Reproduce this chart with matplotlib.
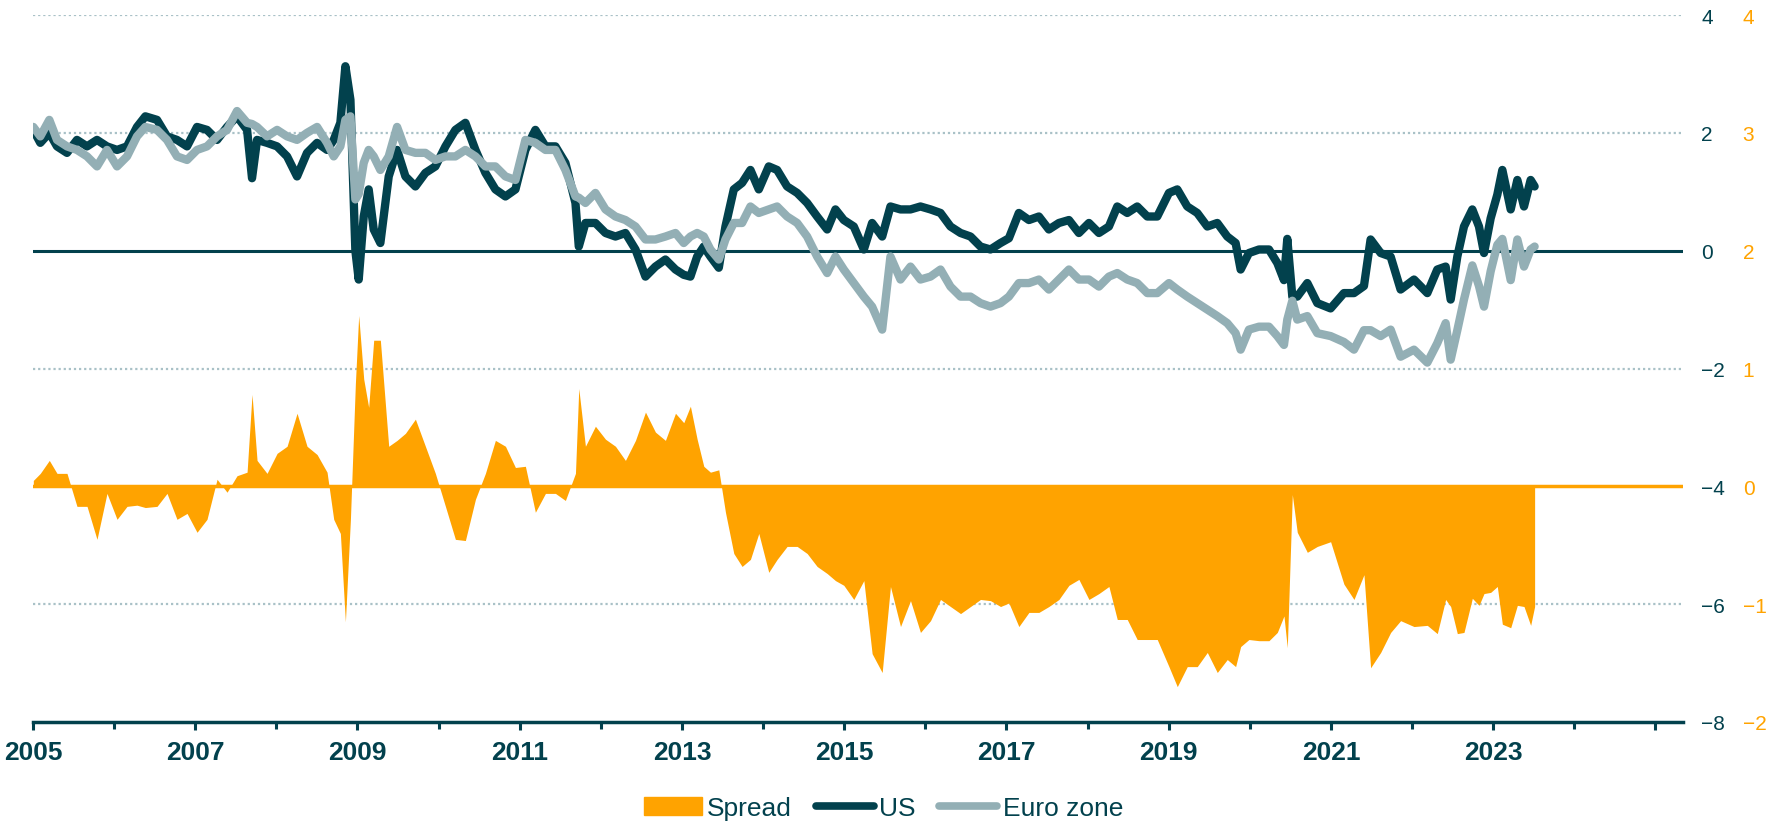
import matplotlib.pyplot as plt
from matplotlib.patches import Patch
from matplotlib.lines import Line2D

plt.rcParams['font.family'] = ['Liberation Sans', 'DejaVu Sans']

DARK = '#02414d'
LIGHT = '#93afb5'
ORANGE = '#ffa300'
GRID = '#a9c1c7'

# time in decimal years
t = [2005.004, 2005.090, 2005.201, 2005.296, 2005.419, 2005.542, 2005.666, 2005.789, 2005.912,
     2006.036, 2006.159, 2006.282, 2006.385, 2006.529, 2006.652, 2006.775, 2006.899,
     2007.022, 2007.145, 2007.269, 2007.392, 2007.515, 2007.639, 2007.700, 2007.762, 2007.885,
     2008.009, 2008.132, 2008.255, 2008.378, 2008.502, 2008.625, 2008.707, 2008.789, 2008.851, 2008.913, 2008.974,
     2009.015, 2009.077, 2009.138, 2009.200, 2009.282, 2009.385, 2009.488, 2009.591, 2009.714, 2009.837, 2009.960,
     2010.084, 2010.207, 2010.330, 2010.454, 2010.577, 2010.700, 2010.824, 2010.947,
     2011.070, 2011.193, 2011.317, 2011.440, 2011.563, 2011.687, 2011.728, 2011.810, 2011.933,
     2012.057, 2012.180, 2012.303, 2012.427, 2012.550, 2012.673, 2012.796, 2012.920,
     2013.022, 2013.104, 2013.187, 2013.269, 2013.351, 2013.454, 2013.536, 2013.639, 2013.741, 2013.844, 2013.947,
     2014.070, 2014.173, 2014.296, 2014.420, 2014.543, 2014.666, 2014.790, 2014.892, 2014.995,
     2015.118, 2015.242, 2015.344, 2015.468, 2015.570, 2015.694, 2015.817, 2015.940,
     2016.064, 2016.187, 2016.310, 2016.434, 2016.557, 2016.680, 2016.803, 2016.927,
     2017.030, 2017.153, 2017.277, 2017.400, 2017.523, 2017.647, 2017.770, 2017.893,
     2018.017, 2018.140, 2018.263, 2018.366, 2018.489, 2018.612, 2018.736, 2018.859,
     2019.003, 2019.106, 2019.229, 2019.352, 2019.476, 2019.599, 2019.722, 2019.825, 2019.887, 2019.989,
     2020.113, 2020.236, 2020.339, 2020.421, 2020.462, 2020.524, 2020.585, 2020.709, 2020.832, 2020.996,
     2021.160, 2021.284, 2021.407, 2021.489, 2021.613, 2021.736, 2021.859,
     2022.024, 2022.188, 2022.311, 2022.414, 2022.476, 2022.558, 2022.640, 2022.743, 2022.825, 2022.887, 2022.969,
     2023.051, 2023.113, 2023.216, 2023.298, 2023.380, 2023.462, 2023.511]

us = [2.05, 1.83, 2.00, 1.77, 1.66, 1.88, 1.77, 1.88, 1.77,
      1.71, 1.77, 2.10, 2.28, 2.22, 1.94, 1.88, 1.77,
      2.10, 2.05, 1.88, 2.10, 2.28, 2.05, 1.23, 1.88, 1.83,
      1.77, 1.60, 1.26, 1.66, 1.83, 1.71, 1.88, 2.17, 3.13, 2.56, 0.00,
      -0.49, 0.58, 1.04, 0.36, 0.13, 1.26, 1.71, 1.26, 1.09, 1.32, 1.43,
      1.77, 2.05, 2.17, 1.71, 1.32, 1.04, 0.92, 1.04,
      1.71, 2.05, 1.77, 1.77, 1.49, 0.81, 0.07, 0.47, 0.47,
      0.30, 0.24, 0.30, 0.02, -0.44, -0.27, -0.15, -0.32,
      -0.41, -0.44, -0.10, 0.07, -0.10, -0.29, 0.41, 1.04, 1.15, 1.37, 1.04,
      1.43, 1.37, 1.09, 0.98, 0.81, 0.58, 0.36, 0.70, 0.52,
      0.41, 0.02, 0.47, 0.24, 0.75, 0.70, 0.70, 0.75,
      0.70, 0.64, 0.41, 0.30, 0.24, 0.07, 0.02, 0.13,
      0.21, 0.64, 0.52, 0.58, 0.36, 0.47, 0.52, 0.30,
      0.47, 0.30, 0.41, 0.75, 0.64, 0.75, 0.58, 0.58,
      0.98, 1.04, 0.75, 0.64, 0.41, 0.47, 0.24, 0.13, -0.32, -0.04,
      0.02, 0.02, -0.21, -0.50, 0.20, -0.78, -0.78, -0.55, -0.89, -0.98,
      -0.72, -0.72, -0.60, 0.19, -0.04, -0.10, -0.66,
      -0.49, -0.72, -0.32, -0.27, -0.83, -0.10, 0.41, 0.70, 0.41, -0.04, 0.55,
      0.95, 1.37, 0.70, 1.20, 0.75, 1.20, 1.09]

euro = [2.10, 1.94, 2.22, 1.88, 1.77, 1.71, 1.60, 1.43, 1.71,
        1.43, 1.60, 1.94, 2.10, 2.05, 1.88, 1.60, 1.54,
        1.71, 1.77, 1.94, 2.05, 2.37, 2.17, 2.15, 2.10, 1.94,
        2.05, 1.94, 1.88, 2.00, 2.10, 1.83, 1.60, 1.77, 2.22, 2.28, 0.87,
        0.96, 1.49, 1.71, 1.60, 1.37, 1.60, 2.10, 1.71, 1.66, 1.66, 1.54,
        1.60, 1.60, 1.71, 1.60, 1.43, 1.43, 1.26, 1.20,
        1.88, 1.83, 1.71, 1.71, 1.37, 0.92, 0.90, 0.81, 0.98,
        0.70, 0.58, 0.52, 0.41, 0.19, 0.19, 0.24, 0.30,
        0.13, 0.24, 0.30, 0.24, 0.02, -0.15, 0.19, 0.47, 0.47, 0.75, 0.64,
        0.70, 0.75, 0.58, 0.47, 0.24, -0.10, -0.38, -0.10, -0.32,
        -0.55, -0.78, -0.95, -1.34, -0.10, -0.49, -0.27, -0.49,
        -0.44, -0.32, -0.61, -0.78, -0.78, -0.89, -0.95, -0.89,
        -0.78, -0.55, -0.55, -0.49, -0.66, -0.49, -0.32, -0.49,
        -0.49, -0.61, -0.44, -0.38, -0.49, -0.55, -0.72, -0.72,
        -0.55, -0.66, -0.78, -0.89, -1.00, -1.11, -1.23, -1.40, -1.68, -1.34,
        -1.29, -1.29, -1.45, -1.60, -1.17, -0.85, -1.17, -1.11, -1.40, -1.45,
        -1.55, -1.68, -1.35, -1.35, -1.45, -1.34, -1.80,
        -1.68, -1.90, -1.57, -1.23, -1.85, -1.35, -0.83, -0.25, -0.60, -0.95, -0.35,
        0.10, 0.20, -0.50, 0.19, -0.27, 0.02, 0.07]

spread = [0.05, 0.11, 0.22, 0.11, 0.11, -0.17, -0.17, -0.45, -0.06,
          -0.28, -0.17, -0.16, -0.18, -0.17, -0.06, -0.28, -0.23,
          -0.39, -0.28, 0.06, -0.05, 0.09, 0.12, 0.78, 0.22, 0.11,
          0.28, 0.34, 0.62, 0.34, 0.27, 0.12, -0.28, -0.40, -1.15, -0.28, 0.87,
          1.45, 0.91, 0.67, 1.24, 1.24, 0.34, 0.39, 0.45, 0.57, 0.34, 0.11,
          -0.17, -0.45, -0.46, -0.11, 0.11, 0.39, 0.34, 0.16,
          0.17, -0.22, -0.06, -0.06, -0.12, 0.11, 0.83, 0.34, 0.51,
          0.40, 0.34, 0.22, 0.39, 0.63, 0.46, 0.39, 0.62,
          0.54, 0.68, 0.40, 0.17, 0.12, 0.14, -0.22, -0.57, -0.68, -0.62, -0.40,
          -0.73, -0.62, -0.51, -0.51, -0.57, -0.68, -0.74, -0.80, -0.84,
          -0.96, -0.80, -1.42, -1.58, -0.85, -1.19, -0.97, -1.24,
          -1.14, -0.96, -1.02, -1.08, -1.02, -0.96, -0.97, -1.02,
          -0.99, -1.19, -1.07, -1.07, -1.02, -0.96, -0.84, -0.79,
          -0.96, -0.91, -0.85, -1.13, -1.13, -1.30, -1.30, -1.30,
          -1.53, -1.70, -1.53, -1.53, -1.41, -1.58, -1.47, -1.53, -1.36, -1.30,
          -1.31, -1.31, -1.24, -1.10, -1.37, -0.07, -0.39, -0.56, -0.51, -0.47,
          -0.83, -0.96, -0.75, -1.54, -1.41, -1.24, -1.14,
          -1.19, -1.18, -1.25, -0.96, -1.02, -1.25, -1.24, -0.95, -1.01, -0.91, -0.90,
          -0.85, -1.17, -1.20, -1.01, -1.02, -1.18, -1.02]

left_ticks = [-8, -6, -4, -2, 0, 2, 4]
right_ticks = [-2, -1, 0, 1, 2, 3, 4]
year_ticks = list(range(2005, 2026, 2))

fig = plt.figure(figsize=(17.67, 8.29), dpi=100)
ax = fig.add_axes([33 / 1767, 106 / 829, 1650 / 1767, 707 / 829])
ax2 = ax.twinx()
ax.set_zorder(ax2.get_zorder() + 1)
ax.patch.set_visible(False)

# spread on the secondary scale
for g in [4, 3, 1, -1]:
    ax2.axhline(g, color=GRID, lw=1.6, ls=(0, (1, 1.3)), zorder=0)
ax2.fill_between(t, spread, 0, color=ORANGE, lw=0, zorder=1)
ax2.axhline(0, color=ORANGE, lw=2.5, zorder=2)
ax2.set_ylim(-2, 4)
ax2.set_yticks(right_ticks)
ax2.tick_params(axis='y', length=0, pad=43, labelsize=15, labelcolor=ORANGE)

ax.axhline(0, color=DARK, lw=2.2, zorder=1)
ax.plot(t, us, color=DARK, lw=6, solid_capstyle='round', solid_joinstyle='round', zorder=3)
ax.plot(t, euro, color=LIGHT, lw=6, solid_capstyle='round', solid_joinstyle='round', zorder=4)

ax.set_ylim(-8, 4)
ax.set_xlim(2005, 2025.34)
ax.yaxis.tick_right()
ax.set_yticks(left_ticks)
ax.tick_params(axis='y', length=0, pad=13, labelsize=15, labelcolor=DARK)

ax.set_xticks(year_ticks)
ax.set_xticklabels([str(y) if y < 2025 else '' for y in year_ticks])
ax.set_xticks(range(2006, 2026, 2), minor=True)
ax.tick_params(axis='x', which='both', direction='out', color=DARK, width=2.2)
ax.tick_params(axis='x', which='major', length=6, pad=7, labelsize=19, labelcolor=DARK)
ax.tick_params(axis='x', which='minor', length=5)
for lbl in ax.get_xticklabels():
    lbl.set_fontweight('bold')

for a in (ax, ax2):
    for s in ('top', 'left', 'right'):
        a.spines[s].set_visible(False)
ax2.spines['bottom'].set_visible(False)
ax.spines['bottom'].set_color(DARK)
ax.spines['bottom'].set_linewidth(2.5)

handles = [Patch(color=ORANGE),
           Line2D([], [], color=DARK, lw=5.5, solid_capstyle='round'),
           Line2D([], [], color=LIGHT, lw=5.5, solid_capstyle='round')]
fig.legend(handles, ['Spread', 'US', 'Euro zone'], loc='center', bbox_to_anchor=(0.5, 1 - 809 / 829),
           ncol=3, frameon=False, fontsize=19, handlelength=2.2, handletextpad=0.2,
           columnspacing=0.9, labelcolor=DARK)

fig.savefig('out.png', dpi=100)
